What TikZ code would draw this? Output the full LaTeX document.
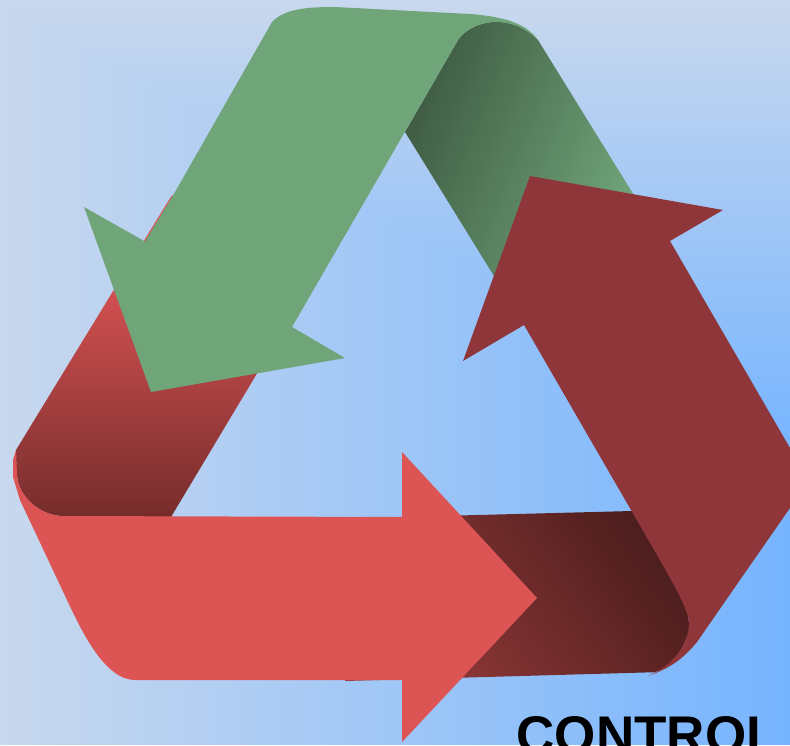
\documentclass[tikz,border=0pt]{standalone}
\usepackage{fontspec}
\setsansfont{Liberation Sans}

\definecolor{bglight}{RGB}{200,216,238}
\definecolor{bgdeep}{RGB}{118,180,255}
\definecolor{redtop}{RGB}{220,84,84}
\definecolor{redlow}{RGB}{118,44,44}
\definecolor{wine}{RGB}{142,54,58}
\definecolor{winelight}{RGB}{150,58,58}
\definecolor{winedark}{RGB}{78,30,30}
\definecolor{leaf}{RGB}{112,165,122}
\definecolor{leafdark}{RGB}{62,90,66}

\begin{document}
\begin{tikzpicture}[
  x=1pt, y=-1pt,
  redarrow/.style={fill=redtop},
  winearrow/.style={fill=wine},
  leafarrow/.style={fill=leaf},
  redfold/.style={top color=redtop, bottom color=redlow},
  winefold/.style={left color=winelight, right color=winedark, shading angle=125},
  leaffold/.style={left color=leafdark, right color=leaf, shading angle=68},
  title/.style={font=\fontsize{53}{54}\selectfont\sffamily\bfseries, anchor=base west, inner sep=0pt},
]

\useasboundingbox (0,0) rectangle (790,745);
\clip (0,0) rectangle (790,745);

% ── Background ──
\foreach \t in {0,...,99}
  \fill[bgdeep!\t!bglight] (\t*7.9,\t*4.5) rectangle (790,745);

% ── Folds behind the arrows ──
\fill[redarrow] (172,195) -- (129,265) -- (200,265) -- cycle;
\shade[redfold] (129,265) -- (16,450) -- (17,475)
  .. controls (18,495) and (38,515) .. (62,516)
  -- (171,517) -- (322,265) -- cycle;
\shade[winefold] (345,681) -- (400,517) -- (632,511) -- (680,560) -- (690,630)
  -- (682,648) -- (671,664) -- (662,668.8) -- (655,672.2) -- cycle;
\shade[leaffold] (405,132) -- (458,40)
  .. controls (472,20) and (510,12) .. (538,40)
  -- (640,205) -- (494,276) -- cycle;

% ── Green arrow ──
\fill[leafarrow] (272,22)
  .. controls (285,8) and (310,7) .. (335,7)
  -- (470,14)
  .. controls (510,17) and (528,26) .. (538,40)
  .. controls (510,12) and (472,20) .. (458,40)
  -- (292,327) -- (345,358) -- (151,392) -- (84,207) -- (145,241.5) -- (175,192) -- cycle;

% ── Red arrow ──
\fill[redarrow] (16,450) -- (13,460) -- (13,477) -- (20,500) -- (67,600)
  .. controls (82,632) and (105,680) .. (135,680)
  -- (402,680) -- (402,742) -- (537,598) -- (402,452) -- (402,517) -- (62,516)
  .. controls (38,515) and (18,495) .. (17,475) -- cycle;

% ── Wine arrow ──
\fill[winearrow] (648,676)
  .. controls (672,666) and (689,645) .. (689,623)
  .. controls (689,610) and (670,578) .. (657,555)
  -- (524,325) -- (463,361) -- (530,176) -- (723,210) -- (670,241)
  -- (790,448) -- (790,508) -- (733,590) -- (697,642)
  .. controls (682,660) and (670,668) .. cycle;

% ── Label ──
\node[title] (control) at (516.5,753) {CONTROL};

\end{tikzpicture}
\end{document}
